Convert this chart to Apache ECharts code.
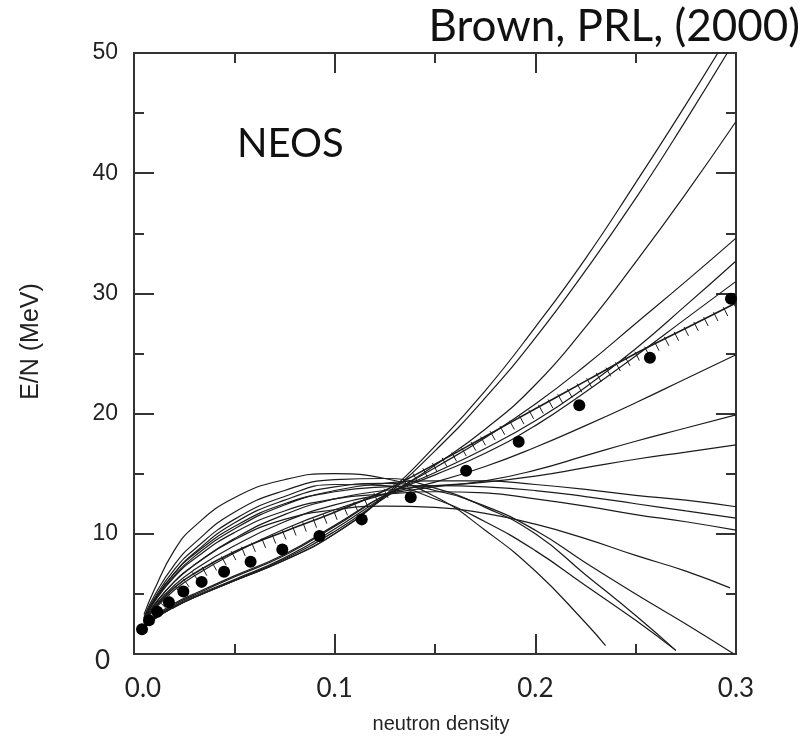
<!DOCTYPE html>
<html><head><meta charset="utf-8">
<script src="https://cdn.jsdelivr.net/npm/echarts@6/dist/echarts.min.js"></script>
<style>html,body{margin:0;padding:0;background:#fff}#c{width:809px;height:740px}</style>
</head><body><div id="c"></div>
<script>
// ---------------- data ----------------
const xTickValues = [0, 0.1, 0.2, 0.3];
const yTickValues = [0, 10, 20, 30, 40, 50];

// filled circles (microscopic neutron-matter calculation)
const dotDensity = [0.004, 0.0075, 0.0116, 0.0174, 0.0246, 0.0337, 0.0449, 0.0581, 0.0739, 0.0924, 0.1135, 0.1379, 0.1655, 0.1917, 0.2219, 0.2571, 0.2975];
const dotEnergy  = [2.05, 2.8, 3.52, 4.3, 5.2, 6.0, 6.85, 7.68, 8.7, 9.82, 11.2, 13.04, 15.25, 17.66, 20.7, 24.65, 29.56];

// hatched curve
const hatchDensity = [0.005, 0.01, 0.02, 0.03, 0.05, 0.075, 0.1, 0.125, 0.15, 0.175, 0.2, 0.225, 0.25, 0.275, 0.3];
const hatchEnergy  = [2.6, 3.8, 5.5, 6.7, 8.5, 10.2, 11.8, 13.6, 15.8, 18.1, 20.4, 22.7, 25.0, 27.1, 29.2];

// Skyrme curves: [density, E/N]
const curveA1 = [[0.005,2.2],[0.01,2.9],[0.02,3.9],[0.03,4.7],[0.05,6.1],[0.075,7.8],[0.1,10.0],[0.125,13.2],[0.15,17.3],[0.175,21.9],[0.2,27.2],[0.225,32.9],[0.25,39.2],[0.275,45.7],[0.3,52.5]];
const curveA2 = [[0.005,2.2],[0.01,2.9],[0.02,3.9],[0.03,4.7],[0.05,6.1],[0.075,7.8],[0.1,10.0],[0.125,13.1],[0.15,16.9],[0.175,21.3],[0.2,26.3],[0.225,31.9],[0.25,37.9],[0.275,44.4],[0.3,51.2]];
const curveA3 = [[0.005,2.2],[0.01,2.9],[0.02,3.9],[0.03,4.7],[0.05,6.1],[0.075,7.9],[0.1,10.2],[0.125,13.0],[0.15,15.7],[0.175,18.7],[0.2,22.4],[0.225,27.2],[0.25,32.6],[0.275,38.3],[0.3,44.3]];
const curveB1 = [[0.005,2.3],[0.01,3.0],[0.02,4.0],[0.03,4.8],[0.05,6.2],[0.075,8.0],[0.1,10.4],[0.125,13.1],[0.15,15.5],[0.175,18.0],[0.2,20.8],[0.225,24.0],[0.25,27.5],[0.275,31.0],[0.3,34.6]];
const curveB2 = [[0.005,2.3],[0.01,3.0],[0.02,4.1],[0.03,4.9],[0.05,6.4],[0.075,8.2],[0.1,10.6],[0.125,13.2],[0.15,15.1],[0.175,17.1],[0.2,19.4],[0.225,22.2],[0.25,25.4],[0.275,29.0],[0.3,32.7]];
const curveB3 = [[0.005,2.3],[0.01,3.1],[0.02,4.2],[0.03,5.0],[0.05,6.5],[0.075,8.3],[0.1,10.7],[0.125,13.2],[0.15,14.9],[0.175,16.7],[0.2,19.0],[0.225,21.8],[0.25,24.8],[0.275,27.9],[0.3,31.0]];
const curveC  = [[0.005,2.6],[0.01,3.7],[0.02,5.3],[0.03,6.5],[0.05,8.4],[0.075,10.4],[0.1,12.0],[0.125,13.3],[0.15,14.3],[0.175,15.6],[0.2,17.2],[0.225,19.0],[0.25,20.9],[0.275,22.9],[0.3,24.9]];
const curveD  = [[0.005,2.7],[0.01,3.9],[0.02,5.7],[0.03,7.0],[0.05,9.0],[0.075,11.0],[0.1,12.4],[0.125,13.3],[0.15,13.9],[0.175,14.4],[0.2,15.3],[0.225,16.5],[0.25,17.7],[0.275,18.8],[0.3,19.9]];
const curveE  = [[0.005,2.8],[0.01,4.1],[0.02,6.0],[0.03,7.4],[0.05,9.6],[0.075,11.6],[0.1,12.9],[0.125,13.6],[0.15,14.0],[0.175,14.3],[0.2,14.8],[0.225,15.5],[0.25,16.2],[0.275,16.8],[0.3,17.4]];
const curveF  = [[0.005,3.0],[0.01,4.4],[0.02,6.5],[0.03,8.1],[0.05,10.4],[0.075,12.4],[0.1,13.6],[0.125,14.2],[0.15,14.4],[0.175,14.4],[0.2,14.1],[0.225,13.7],[0.25,13.2],[0.275,12.8],[0.3,12.25]];
const curveG  = [[0.005,3.0],[0.01,4.5],[0.02,6.7],[0.03,8.3],[0.05,10.6],[0.075,12.5],[0.1,13.5],[0.125,13.9],[0.15,14.0],[0.175,13.9],[0.2,13.6],[0.225,13.1],[0.25,12.5],[0.275,11.9],[0.3,11.3]];
const curveH  = [[0.005,2.9],[0.01,4.3],[0.02,6.4],[0.03,7.9],[0.05,10.1],[0.075,11.9],[0.1,12.9],[0.125,13.3],[0.15,13.5],[0.175,13.4],[0.2,12.9],[0.225,12.3],[0.25,11.6],[0.275,11.0],[0.3,10.3]];
const curveI  = [[0.005,2.7],[0.01,4.0],[0.02,6.0],[0.03,7.4],[0.05,9.5],[0.075,11.2],[0.1,12.0],[0.125,12.3],[0.15,12.2],[0.175,11.7],[0.2,10.8],[0.225,9.6],[0.25,8.2],[0.275,6.9],[0.297,5.5]];
const curveJ  = [[0.005,2.9],[0.01,4.4],[0.02,6.7],[0.03,8.4],[0.05,10.9],[0.075,12.8],[0.1,13.9],[0.125,14.2],[0.15,13.6],[0.175,12.3],[0.2,10.3],[0.225,7.6],[0.25,5.0],[0.275,2.5],[0.299,0.0]];
const curveK  = [[0.005,3.0],[0.01,4.6],[0.02,7.0],[0.03,8.7],[0.05,11.2],[0.075,13.1],[0.1,14.1],[0.125,14.0],[0.15,12.9],[0.175,11.0],[0.2,8.6],[0.225,5.7],[0.25,2.8],[0.27,0.3]];
const curveL  = [[0.005,3.1],[0.01,4.8],[0.02,7.4],[0.03,9.2],[0.05,11.8],[0.075,13.6],[0.1,14.5],[0.125,14.6],[0.15,13.8],[0.175,12.2],[0.2,10.0],[0.225,6.6],[0.25,3.2],[0.27,0.3]];
const curveM  = [[0.005,3.3],[0.01,5.3],[0.02,8.6],[0.03,10.6],[0.05,13.0],[0.075,14.5],[0.1,15.0],[0.125,14.6],[0.15,13.1],[0.175,10.3],[0.2,6.9],[0.225,2.6],[0.235,0.7]];

const skyrmeCurves = [curveA1, curveA2, curveA3, curveB1, curveB2, curveB3, curveC, curveD, curveE, curveF, curveG, curveH, curveI, curveJ, curveK, curveL, curveM];

// ---------------- chart ----------------
const INK = '#1c1c1c';
const chart = echarts.init(document.getElementById('c'), null, {renderer: 'canvas'});

function renderHatch(params, api) {
  const pts = hatchDensity.map((d, i) => api.coord([d, hatchEnergy[i]]));
  const children = [];
  const step = 11, a = -2, b = 8;
  let carry = 4;
  for (let i = 0; i < pts.length - 1; i++) {
    const x0 = pts[i][0], y0 = pts[i][1], x1 = pts[i + 1][0], y1 = pts[i + 1][1];
    const dx = x1 - x0, dy = y1 - y0, L = Math.hypot(dx, dy);
    const ux = dx / L, uy = dy / L, nx = -uy, ny = ux;
    let s = carry;
    while (s <= L) {
      const px = x0 + ux * s, py = y0 + uy * s;
      children.push({type: 'line', shape: {x1: px + nx * a, y1: py + ny * a, x2: px + nx * b, y2: py + ny * b},
        style: {stroke: INK, lineWidth: 1}});
      s += step;
    }
    carry = s - L;
  }
  return {type: 'group', children};
}

const axisCommon = {
  min: 0,
  axisLine: {show: true, onZero: false, lineStyle: {color: '#333', width: 2}},
  axisTick: {show: true, inside: true, length: 20, lineStyle: {color: '#333', width: 2}},
  minorTick: {show: true, splitNumber: 2, length: 10, lineStyle: {color: '#333', width: 2}},
  splitLine: {show: false},
  minorSplitLine: {show: false}
};

const series = skyrmeCurves.map((c, i) => ({
  type: 'line', name: 'Skyrme ' + (i + 1), data: c, smooth: 0.5,
  showSymbol: false, symbol: 'none', clip: true,
  lineStyle: {color: INK, width: 1.2}, z: 2, silent: true
}));
series.push({
  type: 'line', name: 'hatched', data: hatchDensity.map((d, i) => [d, hatchEnergy[i]]),
  smooth: 0.5, showSymbol: false, symbol: 'none', lineStyle: {color: INK, width: 1.6}, z: 3, silent: true
});
series.push({
  type: 'custom', name: 'hatch ticks', data: [[0.15, 15]], renderItem: renderHatch, z: 3, silent: true, clip: true
});
series.push({
  type: 'scatter', name: 'points', data: dotDensity.map((d, i) => [d, dotEnergy[i]]),
  symbol: 'circle', symbolSize: 12, itemStyle: {color: '#000', opacity: 1}, z: 4, silent: true
});

chart.setOption({
  animation: false,
  backgroundColor: '#fff',
  grid: {left: 134, top: 53, right: 73, bottom: 86, containLabel: false},
  xAxis: [
    Object.assign({}, axisCommon, {
      type: 'value', position: 'bottom', max: 0.3, interval: 0.1,
      name: 'neutron density', nameLocation: 'middle', nameGap: 60,
      nameTextStyle: {fontFamily: 'Liberation Sans', fontSize: 20, color: '#222', padding: [0, 0, 0, 12]},
      axisLabel: {
        margin: 22, fontFamily: 'Lato', fontSize: 26, color: '#222',
        formatter: v => (xTickValues.some(t => Math.abs(t - v) < 1e-9) ? (v === 0 ? '{z|0.0}' : v.toFixed(1)) : ''),
        rich: {z: {fontFamily: 'Lato', fontSize: 26, color: '#222', padding: [0, 0, 0, 18]}}
      }
    }),
    Object.assign({}, axisCommon, {
      type: 'value', position: 'top', max: 0.3, interval: 0.1, axisLabel: {show: false}
    })
  ],
  yAxis: [
    Object.assign({}, axisCommon, {
      type: 'value', position: 'left', max: 50, interval: 10,
      name: 'E/N (MeV)', nameLocation: 'middle', nameGap: 90, nameRotate: 90,
      nameTextStyle: {fontFamily: 'Liberation Sans', fontSize: 25, color: '#222', padding: [0, 0, 0, 24]},
      axisLabel: {
        margin: 16, fontFamily: 'Liberation Sans', fontSize: 23, color: '#222',
        formatter: v => (yTickValues.indexOf(v) >= 0 ? (v === 0 ? '{z|0}' : String(v)) : ''),
        rich: {z: {fontFamily: 'Lato', fontSize: 26, color: '#222', padding: [14, 8, 0, 0]}}
      }
    }),
    Object.assign({}, axisCommon, {
      type: 'value', position: 'right', max: 50, interval: 10, axisLabel: {show: false}
    })
  ],
  graphic: [
    {type: 'text', right: 9, top: 5, style: {text: 'Brown, PRL, (2000)', fontFamily: 'Lato', fontSize: 44, fill: '#111'}},
    {type: 'text', left: 237, top: 124, style: {text: 'NEOS', fontFamily: 'Lato', fontSize: 40, fill: '#111'}}
  ],
  series
});
</script>
</body></html>
